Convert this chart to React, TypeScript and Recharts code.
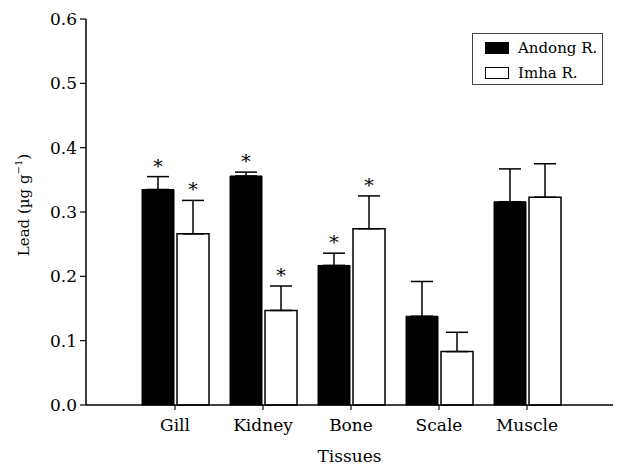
import React from 'react';
import { BarChart, Bar, XAxis, YAxis, ErrorBar, LabelList, Legend, Label } from 'recharts';

const categories = ['Gill', 'Kidney', 'Bone', 'Scale', 'Muscle'];
const andong = [0.335, 0.356, 0.217, 0.138, 0.316];
const andongErr = [0.020, 0.006, 0.019, 0.054, 0.051];
const imha = [0.266, 0.147, 0.274, 0.083, 0.323];
const imhaErr = [0.052, 0.038, 0.051, 0.030, 0.052];
const andongSig = [true, true, true, false, false];
const imhaSig = [true, true, true, false, false];
const yTicks = [0, 0.1, 0.2, 0.3, 0.4, 0.5, 0.6];

const data = categories.map((c, i) => ({
  tissue: c,
  andong: andong[i],
  andongE: [0, andongErr[i]],
  andongStar: andongSig[i] ? `${andong[i]}|${andongErr[i]}` : null,
  imha: imha[i],
  imhaE: [0, imhaErr[i]],
  imhaStar: imhaSig[i] ? `${imha[i]}|${imhaErr[i]}` : null,
}));

const FONT = '"DejaVu Serif", serif';

const StarLabel = (props: any) => {
  const { value } = props;
  if (!value) return null;
  const vb = props.viewBox || props;
  const x = vb.x ?? props.x;
  const y = vb.y ?? props.y;
  const width = vb.width ?? props.width;
  const rawH = vb.height ?? props.height;
  const height = Math.abs(rawH);
  const [v, e] = String(value).split('|').map(Number);
  const pxPerUnit = height / v;
  const top = Math.min(y, y + rawH) - e * pxPerUnit;
  return (
    <text
      x={x + width / 2}
      y={top - 4}
      textAnchor="middle"
      fontFamily={FONT}
      fontSize={19}
      fill="#000"
      stroke="none"
      style={{ fill: '#000' }}
    >
      *
    </text>
  );
};

const LegendBox = () => (
  <div
    style={{
      position: 'relative',
      width: 131,
      height: 52,
      border: '1px solid #444',
      background: '#fff',
      fontFamily: FONT,
      fontSize: 15,
      color: '#000',
      boxSizing: 'border-box',
    }}
  >
    <div style={{ position: 'absolute', left: 12, top: 8, width: 24, height: 12, background: '#000', boxSizing: 'border-box' }} />
    <div style={{ position: 'absolute', left: 45, top: 4, lineHeight: '20px', whiteSpace: 'nowrap' }}>Andong R.</div>
    <div style={{ position: 'absolute', left: 12, top: 33, width: 24, height: 12, background: '#fff', border: '1.5px solid #000', boxSizing: 'border-box' }} />
    <div style={{ position: 'absolute', left: 45, top: 29, lineHeight: '20px', whiteSpace: 'nowrap' }}>Imha R.</div>
  </div>
);

const YLabel = () => {
  const cx = 24;
  const cy = 205;
  return (
    <text
      x={cx}
      y={cy}
      transform={`rotate(-90, ${cx}, ${cy})`}
      textAnchor="middle"
      dominantBaseline="central"
      fontFamily={FONT}
      fontSize={15}
      fill="#000"
    >
      Lead (µg g
      <tspan fontSize={10} dy={-6}>−1</tspan>
      <tspan dy={6}>)</tspan>
    </text>
  );
};

const XLabel = () => (
  <text x={349.5} y={462} textAnchor="middle" fontFamily={FONT} fontSize={17} fill="#000">
    Tissues
  </text>
);

export default function App() {
  const tickStyle = { fontFamily: FONT, fontSize: 17, fill: '#000' };
  return (
    <div style={{ position: 'absolute', left: 0, top: 0, width: 617, height: 468, background: '#fff' }}>
      <BarChart
        width={617}
        height={468}
        data={data}
        margin={{ top: 19, right: 4, bottom: 0, left: 0 }}
        barSize={32}
        barGap={3}
      >
        <XAxis
          dataKey="tissue"
          height={63}
          padding={{ left: 45, right: 42 }}
          axisLine={{ stroke: '#000', strokeWidth: 1.5 }}
          tickLine={{ stroke: '#000', strokeWidth: 1.2 }}
          tickSize={5}
          tickMargin={9}
          tick={tickStyle}
        >
          <Label content={XLabel} />
        </XAxis>
        <XAxis
          xAxisId="top"
          dataKey="tissue"
          orientation="top"
          height={0}
          tick={false}
          tickLine={false}
          axisLine={{ stroke: '#000', strokeWidth: 1.5 }}
        />
        <YAxis
          width={86}
          domain={[0, 0.6]}
          ticks={yTicks}
          tickFormatter={(v: number) => v.toFixed(1)}
          axisLine={{ stroke: '#000', strokeWidth: 1.5 }}
          tickLine={{ stroke: '#000', strokeWidth: 1.2 }}
          tickSize={6}
          tickMargin={3}
          tick={tickStyle}
          interval={0}
        >
          <Label content={YLabel} />
        </YAxis>
        <YAxis
          yAxisId="right"
          orientation="right"
          width={0}
          domain={[0, 0.6]}
          tick={false}
          tickLine={false}
          axisLine={{ stroke: '#000', strokeWidth: 1.5 }}
        />
        <Legend
          layout="vertical"
          align="center"
          verticalAlign="middle"
          content={LegendBox}
          wrapperStyle={{ position: 'absolute', left: 472, top: 33, width: 131, height: 52 }}
        />
        <Bar dataKey="andong" name="Andong R." fill="#000" stroke="#000" strokeWidth={1} isAnimationActive={false}>
          <ErrorBar dataKey="andongE" width={11} stroke="#000" strokeWidth={1.5} direction="y" />
          <LabelList dataKey="andongStar" content={StarLabel} />
        </Bar>
        <Bar dataKey="imha" name="Imha R." fill="#fff" stroke="#000" strokeWidth={1.5} isAnimationActive={false}>
          <ErrorBar dataKey="imhaE" width={11} stroke="#000" strokeWidth={1.5} direction="y" />
          <LabelList dataKey="imhaStar" content={StarLabel} />
        </Bar>
      </BarChart>
    </div>
  );
}
